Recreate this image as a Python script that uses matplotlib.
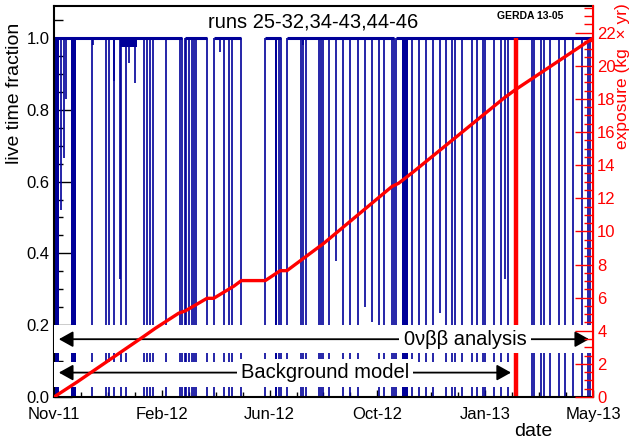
import numpy as np
import matplotlib
matplotlib.use("Agg")
import matplotlib.pyplot as plt
import matplotlib.dates as mdates
from matplotlib.ticker import AutoMinorLocator, MultipleLocator, FormatStrFormatter

plt.rcParams['font.family'] = ['Liberation Sans', 'DejaVu Sans']

# time axis: days since start of data taking
start_date = np.datetime64('2011-11-09')
span_days = 559

# run-off periods (start day, end day), live time = 0
gaps = [(132.7, 135.5), (158.7, 165.6), (194.3, 219.1), (235.4, 241.6), (352.3, 354.7)]

# short interruptions where the live time drops to 0
drop_days = [2.6, 4.1, 39.4, 54.2, 57.4, 61.9, 69.5, 74.7, 93.0, 96.5, 99.9, 102.7,
             116.2, 131.0, 137.4, 139.7, 143.1, 144.9, 147.3, 176.0, 181.8, 184.6,
             233.0, 256.2, 258.2, 261.4, 275.1, 277.2, 278.7, 285.5, 299.4, 307.3,
             315.3, 336.7, 342.2, 350.5, 371.3, 378.2, 385.8, 392.7, 406.5, 412.8,
             415.6, 423.1, 433.5, 438.7, 444.6, 446.7, 456.0, 463.9, 470.9, 495.7,
             497.5, 505.4, 507.9, 514.7, 523.4, 530.3, 537.9, 547.6, 553.8, 556.2]

# partial drops (day, live time fraction)
partial_days = [7.6, 10.4, 12.4, 20.7, 40.1, 62.5, 68.1, 77.5, 84.3, 172.5,
                258.2, 292.5, 322.9, 329.8, 400.0, 468.1]
partial_vals = [0.52, 0.665, 0.83, 0.33, 0.98, 0.88, 0.33, 0.93, 0.875, 0.96,
                0.98, 0.38, 0.25, 0.21, 0.235, 0.33]

# dense blocks of interruptions (start, end)
dense_blocks = [(0.8, 5.2), (17.9, 22.8), (228.9, 231.3), (360.9, 367.1)]
# period with many small dead time fractions
shallow_band = (68.5, 86.1, 0.975)

# cumulative exposure (kg x yr)
expo_days = [0.0, 23.5, 92.6, 105.1, 129.3, 136.2, 158.7, 165.6, 186.7, 194.3,
             219.1, 234.7, 241.6, 280.0, 350.5, 357.5, 373.0, 466.7, 478.4, 559.0]
expo_vals = [0.0, 0.89, 3.64, 4.15, 5.06, 5.20, 5.96, 5.96, 6.70, 7.03,
             7.03, 7.63, 7.63, 9.29, 12.71, 12.91, 13.61, 18.05, 18.55, 21.67]

# end of data set used for background model
bkg_end_day = 479

t0 = mdates.date2num(start_date)
blue = '#000099'

fig = plt.figure(figsize=(6.34, 4.4), dpi=100)
ax = fig.add_axes([0.0852, 0.0977, 0.8501, 0.8887])

# top line at 1.0, interrupted by the run-off periods
seg_start, seg_end = [], []
prev = 0.0
for g0, g1 in gaps:
    seg_start.append(prev)
    seg_end.append(g0)
    prev = g1
seg_start.append(prev)
seg_end.append(span_days)
ax.hlines(np.ones(len(seg_start)), t0 + np.array(seg_start), t0 + np.array(seg_end),
          color=blue, lw=2.2, zorder=2)

edges = [g[0] for g in gaps] + [g[1] for g in gaps]
ax.vlines(t0 + np.array(edges), 0, 1.0, color=blue, lw=1.2, zorder=2)
ax.vlines(t0 + np.array(drop_days), 0, 1.0, color=blue, lw=1.2, zorder=2)
ax.vlines(t0 + np.array(partial_days), partial_vals, 1.0, color=blue, lw=1.2, zorder=2)
for b0, b1 in dense_blocks:
    ax.fill_between([t0 + b0, t0 + b1], 0, 1.0, color=blue, lw=0, zorder=2)
ax.fill_between([t0 + shallow_band[0], t0 + shallow_band[1]], shallow_band[2], 1.0,
                color=blue, lw=0, zorder=2)

# end of background model data set
ax.vlines(t0 + bkg_end_day, 0, 1.0, color='red', lw=3.2, zorder=2.5)

# white boxes behind the annotations
ax.fill_between([t0, t0 + span_days], 0.123, 0.200, color='white', lw=0, zorder=3)
ax.fill_between([t0, t0 + bkg_end_day - 3], 0.029, 0.098, color='white', lw=0, zorder=3)

arrow_style = '<|-|>,head_length=0.43,head_width=0.24'
ax.annotate('', xy=(t0 + 555, 0.161), xytext=(t0 + 5, 0.161),
            arrowprops=dict(arrowstyle=arrow_style, color='black', lw=1.3,
                            mutation_scale=20, shrinkA=0, shrinkB=0), zorder=4)
ax.text(t0 + 490, 0.161, '0νββ analysis', fontsize=14.5, ha='right', va='center',
        bbox=dict(facecolor='white', edgecolor='none', pad=3), zorder=5)
ax.annotate('', xy=(t0 + 474, 0.068), xytext=(t0 + 5, 0.068),
            arrowprops=dict(arrowstyle=arrow_style, color='black', lw=1.3,
                            mutation_scale=20, shrinkA=0, shrinkB=0), zorder=4)
ax.text(t0 + 281, 0.068, 'Background model', fontsize=14.5, ha='center', va='center',
        bbox=dict(facecolor='white', edgecolor='none', pad=3), zorder=5)

ax.set_xlim(t0, t0 + span_days)
ax.set_ylim(0, 1.089)
ax.set_xticks(t0 + np.linspace(0, span_days, 6))
ax.xaxis.set_major_formatter(mdates.DateFormatter('%b-%y'))
ax.xaxis.set_minor_locator(AutoMinorLocator(4))
ax.yaxis.set_major_locator(MultipleLocator(0.2))
ax.yaxis.set_minor_locator(MultipleLocator(0.05))
ax.yaxis.set_major_formatter(FormatStrFormatter('%.1f'))
ax.tick_params(axis='x', which='major', direction='in', length=5, width=1, pad=7, labelsize=12)
ax.tick_params(axis='x', which='minor', direction='in', length=3.5, width=1)
ax.tick_params(axis='y', which='major', direction='in', length=13, width=1, pad=3, labelsize=12)
ax.tick_params(axis='y', which='minor', direction='in', length=6.5, width=1)
for s in ['left', 'bottom', 'top']:
    ax.spines[s].set_linewidth(1.5)

ax2 = ax.twinx()
ax2.plot(t0 + np.array(expo_days), expo_vals, color='red', lw=2.4, zorder=5)
ax2.set_ylim(0, 23.61)
ax2.yaxis.set_major_locator(MultipleLocator(2))
ax2.yaxis.set_minor_locator(MultipleLocator(0.5))
ax2.tick_params(axis='y', which='major', direction='in', length=13, width=1, pad=3,
                labelsize=12, colors='red')
ax2.tick_params(axis='y', which='minor', direction='in', length=6.5, width=1, colors='red')
ax2.spines['right'].set_color('red')
ax2.spines['right'].set_linewidth(1.5)
for s in ['left', 'bottom', 'top']:
    ax2.spines[s].set_visible(False)

fig.text(15 / 634, 1 - 93 / 440, 'live time fraction', rotation=90, fontsize=14,
         ha='center', va='center')
fig.text(623 / 634, 1 - 76 / 440, 'exposure (kg  × yr)', rotation=90, fontsize=12.5,
         color='red', ha='center', va='center')
fig.text(533 / 634, 1 - 431 / 440, 'date', fontsize=14, ha='center', va='center')
fig.text(313 / 634, 1 - 22 / 440, 'runs 25-32,34-43,44-46', fontsize=14.5, ha='center', va='center')
fig.text(530 / 634, 1 - 16 / 440, 'GERDA 13-05', fontsize=7.5, fontweight='bold',
         ha='center', va='center')

fig.savefig('out.png', dpi=100)
